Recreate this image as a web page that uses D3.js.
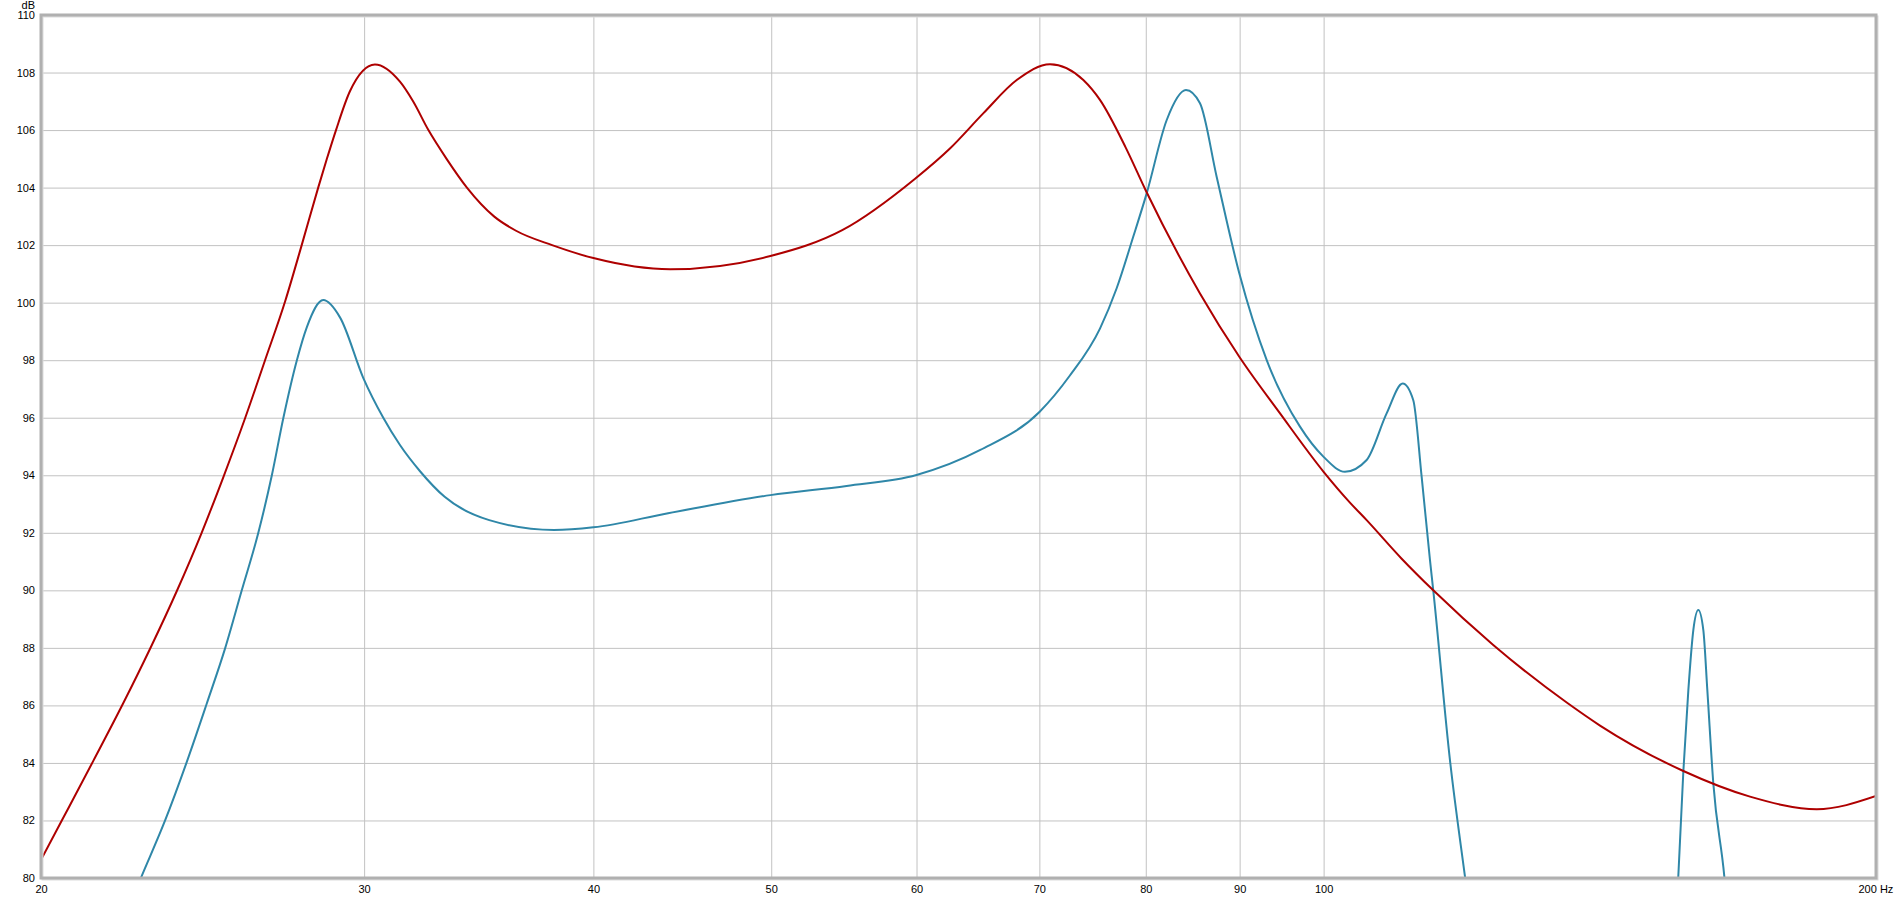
<!DOCTYPE html>
<html>
<head>
<meta charset="utf-8">
<script src="https://cdn.jsdelivr.net/npm/d3@7"></script>
<style>
  html, body { margin: 0; padding: 0; background: #ffffff; }
  svg { display: block; }
  text { font-family: Arial, "Liberation Sans", sans-serif; font-size: 11px; fill: #000; }
</style>
</head>
<body>
<svg id="chart" width="1895" height="898"></svg>
<script>
// ---- data ----
const xTicks = [20, 30, 40, 50, 60, 70, 80, 90, 100, 200];
const yTicks = [80, 82, 84, 86, 88, 90, 92, 94, 96, 98, 100, 102, 104, 106, 108, 110];
const yUnit = "dB";
const xUnit = "Hz";

const redFreq = [20, 20.57, 21.36, 22.18, 22.93, 23.71, 24.47, 25.14, 25.84, 26.49, 27.17, 27.74, 28.32, 28.63, 28.96, 29.47, 30.41, 31.38, 31.9, 32.52, 33.27, 34.13, 35.31, 36.3, 37.98, 40, 44.05, 49.95, 54.66, 59.87, 62.57, 65.24, 68.04, 70.94, 73.97, 75.53, 78, 80, 85.63, 89.96, 94.68, 100, 103.36, 105.55, 110.29, 114.75, 123.72, 135.67, 141.46, 157.05, 170.75, 185.67, 200];
const redDb   = [80.63, 82.1, 84.08, 86.09, 87.96, 89.96, 92.01, 93.93, 95.99, 97.99, 100.05, 102.0, 104.0, 105.0, 106.0, 107.35, 108.28, 107.68, 107.0, 106.0, 105.0, 104.0, 103.0, 102.5, 102.0, 101.55, 101.16, 101.62, 102.52, 104.3, 105.36, 106.58, 107.74, 108.29, 107.74, 107.05, 105.4, 103.9, 100.32, 98.12, 96.15, 94.12, 93.05, 92.44, 91.1, 90.0, 88.1, 86.1, 85.3, 83.72, 82.83, 82.39, 82.85];

// null marks the stretch where the curve is below the 80 dB floor
const blueFreq = [22.33, 22.69, 23.37, 24.01, 24.62, 25.2, 25.73, 26.27, 26.72, 27.11, 27.57, 27.92, 28.5, 29.11, 29.97, 30.73, 31.38, 32.18, 33.19, 35.1, 38.07, 40, 43.93, 49.95, 54.96, 60, 65, 70.03, 72.7, 75.53, 77.13, 78.75, 80.09, 82.13, 84.14, 85.63, 87.44, 89.96, 93.11, 97.08, 100, 102.71, 105.55, 108.23, 110.43, 111.91, 113.09, 114.28, 114.75, 117.18, 119.41, 120.3, 140, 155.8, 156.06, 157.05, 158.04, 159.03, 160.03, 161.04, 161.85, 163.07, 165.34, 165.9];
const blueDb   = [79.0, 80.06, 82.0, 84.02, 86.05, 87.99, 90.0, 92.0, 94.0, 96.0, 97.99, 99.15, 100.09, 99.48, 97.38, 96.0, 95.05, 94.14, 93.25, 92.44, 92.1, 92.19, 92.68, 93.31, 93.63, 94.01, 94.88, 96.21, 97.45, 99.1, 100.5, 102.29, 103.8, 106.35, 107.39, 106.93, 104.38, 101.02, 98.0, 95.69, 94.64, 94.12, 94.53, 96.15, 97.19, 96.61, 93.95, 91.05, 90.0, 84.1, 80.05, 78.5, null, 79.0, 80.05, 83.7, 86.53, 88.62, 89.32, 88.62, 86.53, 83.29, 80.05, 79.0];

// ---- layout ----
const pL = 41, pR = 1876, pT = 15, pB = 878;
const svg = d3.select("#chart");

const x = d3.scaleLog().domain([20, 200]).range([pL, pR]);
const y = d3.scaleLinear().domain([80, 110]).range([pB, pT]);

// grid + y labels
const yAxis = d3.axisLeft(y).tickValues(yTicks).tickFormat(d3.format("d"))
  .tickSize(-(pR - pL)).tickPadding(6);
const gy = svg.append("g").attr("transform", `translate(${pL},0)`).call(yAxis);
gy.select(".domain").remove();
gy.selectAll("line").attr("stroke", "#c2c2c2");
gy.selectAll("text").style("font-family", "Arial, 'Liberation Sans', sans-serif").style("font-size", "11px").attr("fill", "#000");

const xAxis = d3.axisBottom(x).tickValues(xTicks)
  .tickFormat(d => d === 200 ? `200 ${xUnit}` : String(d))
  .tickSize(-(pB - pT)).tickPadding(7);
const gx = svg.append("g").attr("transform", `translate(0,${pB})`).call(xAxis);
gx.select(".domain").remove();
gx.selectAll("line").attr("stroke", "#c2c2c2");
gx.selectAll("text").style("font-family", "Arial, 'Liberation Sans', sans-serif").style("font-size", "11px").attr("fill", "#000");
gx.selectAll(".tick").filter(d => d === 200).select("text")
  .attr("text-anchor", "start").attr("x", -18);

// unit label
svg.append("text").attr("x", 35).attr("y", 9).attr("text-anchor", "end").text(yUnit);

// clip
svg.append("clipPath").attr("id", "plotclip")
  .append("rect").attr("x", pL).attr("y", pT).attr("width", pR - pL).attr("height", pB - pT);

const line = d3.line()
  .defined(d => d[1] != null)
  .x(d => x(d[0])).y(d => y(d[1]))
  .curve(d3.curveMonotoneX);
const redData = redFreq.map((f, i) => [f, redDb[i]]);
const blueData = blueFreq.map((f, i) => [f, blueDb[i]]);

const lines = svg.append("g").attr("clip-path", "url(#plotclip)");
lines.append("path").datum(blueData).attr("d", line)
  .attr("fill", "none").attr("stroke", "#2f87a8").attr("stroke-width", 2).attr("stroke-linejoin", "round");
lines.append("path").datum(redData).attr("d", line)
  .attr("fill", "none").attr("stroke", "#ae0000").attr("stroke-width", 2).attr("stroke-linejoin", "round");

// frame
svg.append("rect").attr("x", pL + 1.5).attr("y", pT + 1.5).attr("width", pR - pL).attr("height", pB - pT)
  .attr("fill", "none").attr("stroke", "#dcdcdc").attr("stroke-width", 2);
svg.append("rect").attr("x", pL).attr("y", pT).attr("width", pR - pL).attr("height", pB - pT)
  .attr("fill", "none").attr("stroke", "#b0b0b0").attr("stroke-width", 3);
</script>
</body>
</html>
